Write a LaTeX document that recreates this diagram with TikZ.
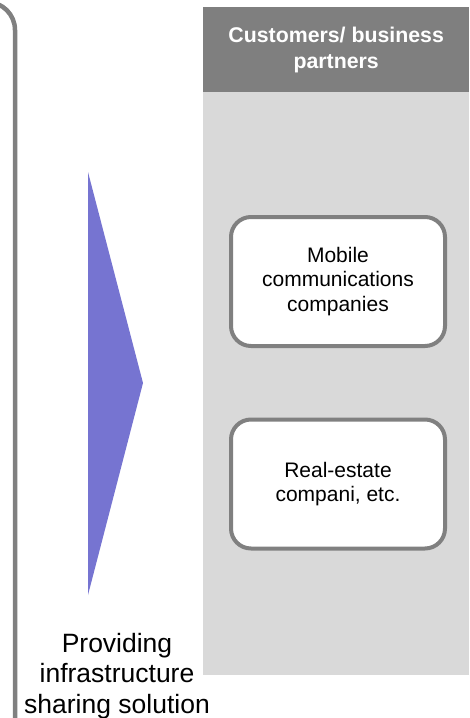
\documentclass[tikz,border=0pt]{standalone}
\usepackage{fontspec}
\setmainfont{Liberation Sans}
\usetikzlibrary{positioning,calc}
\definecolor{framegray}{HTML}{808080}
\definecolor{headgray}{HTML}{7F7F7F}
\definecolor{panelgray}{HTML}{D9D9D9}
\definecolor{arrowblue}{HTML}{7674D1}

\tikzset{
  partnerbox/.style={draw=framegray, line width=4pt, fill=white, rounded corners=20pt,
    minimum width=214pt, minimum height=129pt, align=center, inner sep=0pt,
    font=\fontsize{21}{24.5}\selectfont},
}

\begin{document}
\begin{tikzpicture}[x=1pt, y=-1pt]
  \useasboundingbox (0,0) rectangle (469,718);
  \clip (0,0) rectangle (469,718);

  % left frame, mostly cut off
  \draw[framegray, line width=4.5pt, rounded corners=28pt] (-120,2) rectangle (15,760);

  % customers panel
  \fill[panelgray] (203,7) rectangle (469,675);
  \node[fill=headgray, minimum width=266pt, minimum height=85pt, inner sep=0pt,
        text=white, align=center, font=\fontsize{21.3}{26}\selectfont\bfseries,
        anchor=north west] (head) at (203,7) {Customers/ business\\partners};

  \node[partnerbox] (mobile) at (338,281.5) {Mobile\\communications\\companies};
  \node[partnerbox] (estate) at (338,484) {Real-estate\\compani, etc.};

  % big arrow
  \coordinate (top) at (88,172);
  \coordinate (tip) at (143,383);
  \coordinate (bot) at (88,595);
  \fill[arrowblue] (top) -- (tip) -- (bot) -- cycle;

  \node[align=center, font=\fontsize{26.5}{30.5}\selectfont] (offer) at (117,676)
    {Providing\\infrastructure\\sharing solution};
\end{tikzpicture}
\end{document}
